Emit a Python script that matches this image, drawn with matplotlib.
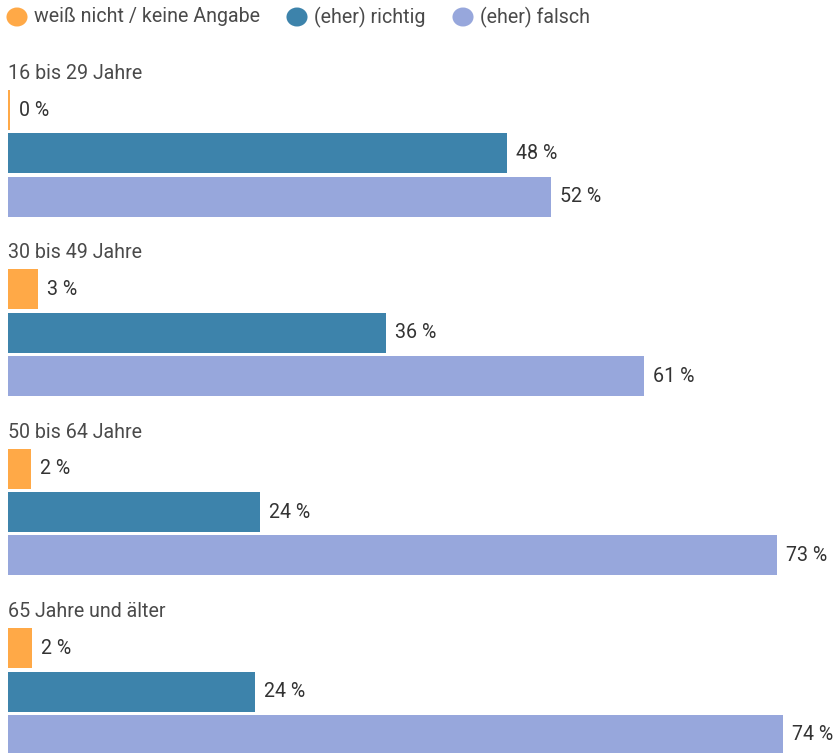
import matplotlib
matplotlib.use("Agg")
import matplotlib.pyplot as plt
from matplotlib.patches import Circle

plt.rcParams['font.family'] = ['Roboto', 'DejaVu Sans']

groups = ["16 bis 29 Jahre", "30 bis 49 Jahre", "50 bis 64 Jahre", "65 Jahre und älter"]
series = ["weiß nicht / keine Angabe", "(eher) richtig", "(eher) falsch"]
colors = ["#ffa947", "#3d83ab", "#97a7dc"]

weiss_nicht = [0.2, 2.9, 2.2, 2.3]
richtig = [47.7, 36.1, 24.1, 23.6]
falsch = [51.9, 60.8, 73.5, 74.1]
values = [weiss_nicht, richtig, falsch]
value_labels = [["0 %", "3 %", "2 %", "2 %"],
                ["48 %", "36 %", "24 %", "24 %"],
                ["52 %", "61 %", "73 %", "74 %"]]

W, H = 835, 753
fig = plt.figure(figsize=(W / 100, H / 100), dpi=100)
ax = fig.add_axes([0, 0, 1, 1])
scale = 10.46  # px per percent
x0 = 8
ax.set_xlim(-x0 / scale, (W - x0) / scale)
ax.set_ylim(H, 0)
ax.axis('off')

value_color = "#333333"
label_color = "#4a4a4a"
fs = 14.1
group_pitch = 179.4
bar_pitch = 43.3
first_center = 110
bar_h = 40

for g, gname in enumerate(groups):
    top = first_center + g * group_pitch - bar_h / 2
    ax.text(0, top - 16.5, gname, fontsize=fs, color=label_color, va='center', ha='left')
    for s in range(3):
        v = values[s][g]
        yc = first_center + g * group_pitch + s * bar_pitch
        ax.barh(yc, v, height=bar_h, color=colors[s], left=0)
        ax.annotate(value_labels[s][g], xy=(v, yc), xytext=(6.5, 0), textcoords='offset points',
                    fontsize=fs, color=value_color, va='center', ha='left')

# legend
leg_x = [17, 297, 463]
for i, name in enumerate(series):
    cx, cy = leg_x[i], 17
    fig.patches.append(Circle((cx / W, 1 - cy / H), 9.5 / H, transform=fig.transFigure,
                              facecolor=colors[i], edgecolor='none'))
    fig.text((cx + 17) / W, 1 - cy / H, name, fontsize=fs, color=label_color,
             va='center', ha='left')

fig.savefig("out.png", dpi=100)
